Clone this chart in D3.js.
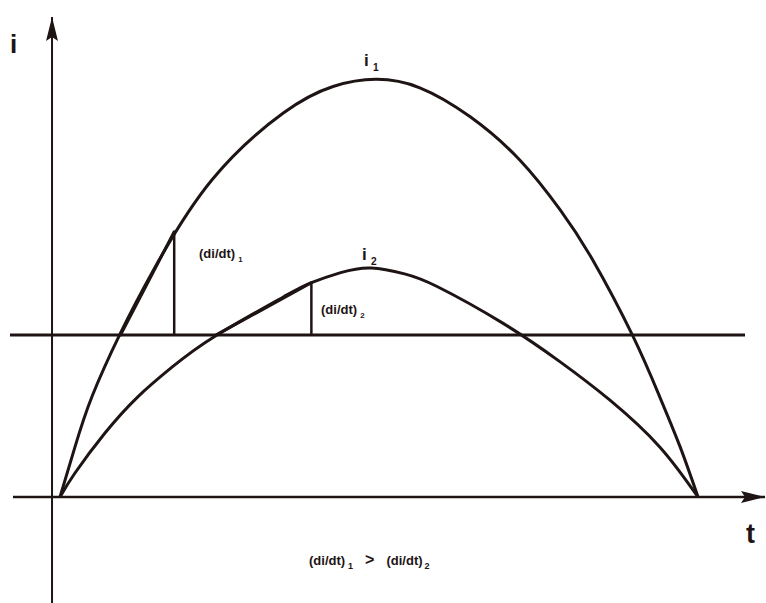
<!DOCTYPE html>
<html>
<head>
<meta charset="utf-8">
<script src="https://cdn.jsdelivr.net/npm/d3@7"></script>
<style>
  body { margin: 0; background: #fff; }
  text { font-family: "Liberation Sans", Arial, sans-serif; font-weight: bold; fill: #1e1414; }
</style>
</head>
<body>
<div id="chart"></div>
<script>
// curve i1 (time, current)
const t1 = [0, 0.235, 0.5, 0.94, 1.49, 2.38, 3.5, 4.28, 4.95, 5.64, 6.43, 7.21, 7.84, 8.35, 8.98, 9.4, 9.72, 10];
const i1 = [0, 1.19, 2.38, 3.87, 5.46, 7.53, 9.12, 9.75, 9.92, 9.72, 9.03, 8.0, 6.82, 5.63, 3.82, 2.38, 1.19, 0];

// curve i2
const t2 = [0, 0.235, 0.705, 1.22, 1.76, 2.43, 3.5, 3.92, 4.4, 4.88, 5.4, 5.91, 6.94, 7.84, 8.62, 9.4, 10];
const i2 = [0, 0.57, 1.52, 2.38, 3.09, 3.82, 4.75, 5.08, 5.33, 5.44, 5.3, 5.0, 4.13, 3.21, 2.3, 1.19, 0];

// reference level (horizontal line)
const level = 3.85;

// slope triangles: [t at level, t at vertical, i at top of vertical]
const slope1 = [0.95, 1.79, 6.3];
const slope2 = [2.45, 3.94, 5.09];

const width = 766;
const height = 603;
const stroke = '#1e1414';

const svg = d3.select('#chart')
  .append('svg')
  .attr('width', width)
  .attr('height', height);

// scales: t=0 -> 60px, t=10 -> 698px ; i=0 -> 497px, i=10 -> 76px
const x = d3.scaleLinear().domain([0, 10]).range([60, 698]);
const y = d3.scaleLinear().domain([0, 10]).range([497, 76]);

const line = d3.line()
  .x(d => x(d[0]))
  .y(d => y(d[1]))
  .curve(d3.curveNatural);

// arrow marker for the axes
svg.append('defs')
  .append('marker')
  .attr('id', 'arrow')
  .attr('viewBox', '0 0 24 12')
  .attr('refX', 24)
  .attr('refY', 6)
  .attr('markerWidth', 24)
  .attr('markerHeight', 12)
  .attr('markerUnits', 'userSpaceOnUse')
  .attr('orient', 'auto')
  .append('path')
  .attr('d', 'M0,0 L24,6 L0,12 L4,6 Z')
  .attr('fill', stroke);

// axes
const axisX = x(-0.125);
svg.append('line')
  .attr('x1', axisX).attr('y1', height)
  .attr('x2', axisX).attr('y2', 17)
  .attr('stroke', stroke).attr('stroke-width', 2)
  .attr('marker-end', 'url(#arrow)');

svg.append('line')
  .attr('x1', 13).attr('y1', y(0))
  .attr('x2', 765).attr('y2', y(0))
  .attr('stroke', stroke).attr('stroke-width', 2.5)
  .attr('marker-end', 'url(#arrow)');

// reference level
svg.append('line')
  .attr('x1', 10).attr('y1', y(level))
  .attr('x2', 745).attr('y2', y(level))
  .attr('stroke', stroke).attr('stroke-width', 3);

// curves
const curves = [d3.zip(t1, i1), d3.zip(t2, i2)];
svg.selectAll('.curve')
  .data(curves)
  .join('path')
  .attr('class', 'curve')
  .attr('d', line)
  .attr('fill', 'none')
  .attr('stroke', stroke)
  .attr('stroke-width', 3);

// slope triangles: vertical leg + chord along the curve
[slope1, slope2].forEach(s => {
  svg.append('line')
    .attr('x1', x(s[1])).attr('y1', y(level))
    .attr('x2', x(s[1])).attr('y2', y(s[2]))
    .attr('stroke', stroke).attr('stroke-width', 2.5);
  svg.append('line')
    .attr('x1', x(s[0])).attr('y1', y(level))
    .attr('x2', x(s[1])).attr('y2', y(s[2]))
    .attr('stroke', stroke).attr('stroke-width', 3)
    .attr('stroke-linecap', 'round');
});

// labels
function label(px, py, main, sub, size) {
  const t = svg.append('text')
    .attr('x', px).attr('y', py)
    .attr('font-size', size);
  t.append('tspan').text(main);
  if (sub) {
    t.append('tspan')
      .attr('dy', size * 0.3)
      .attr('dx', size * 0.25)
      .attr('font-size', size * 0.6)
      .text(sub);
  }
  return t;
}

label(10, 53, 'i', null, 26);
label(746, 543, 't', null, 27);
label(364, 66, 'i', '1', 17);
label(362, 260, 'i', '2', 17);
label(199, 258, '(di/dt)', '1', 13);
label(321, 314, '(di/dt)', '2', 13);

const bottom = svg.append('text')
  .attr('x', 309).attr('y', 565)
  .attr('font-size', 13);
bottom.append('tspan').text('(di/dt)');
bottom.append('tspan').attr('dy', 4).attr('dx', 3).attr('font-size', 9).text('1');
bottom.append('tspan').attr('dy', -4).attr('dx', 12).attr('font-size', 16).text('>');
bottom.append('tspan').attr('dx', 12).text('(di/dt)');
bottom.append('tspan').attr('dy', 4).attr('dx', 2).attr('font-size', 9).text('2');
</script>
</body>
</html>
